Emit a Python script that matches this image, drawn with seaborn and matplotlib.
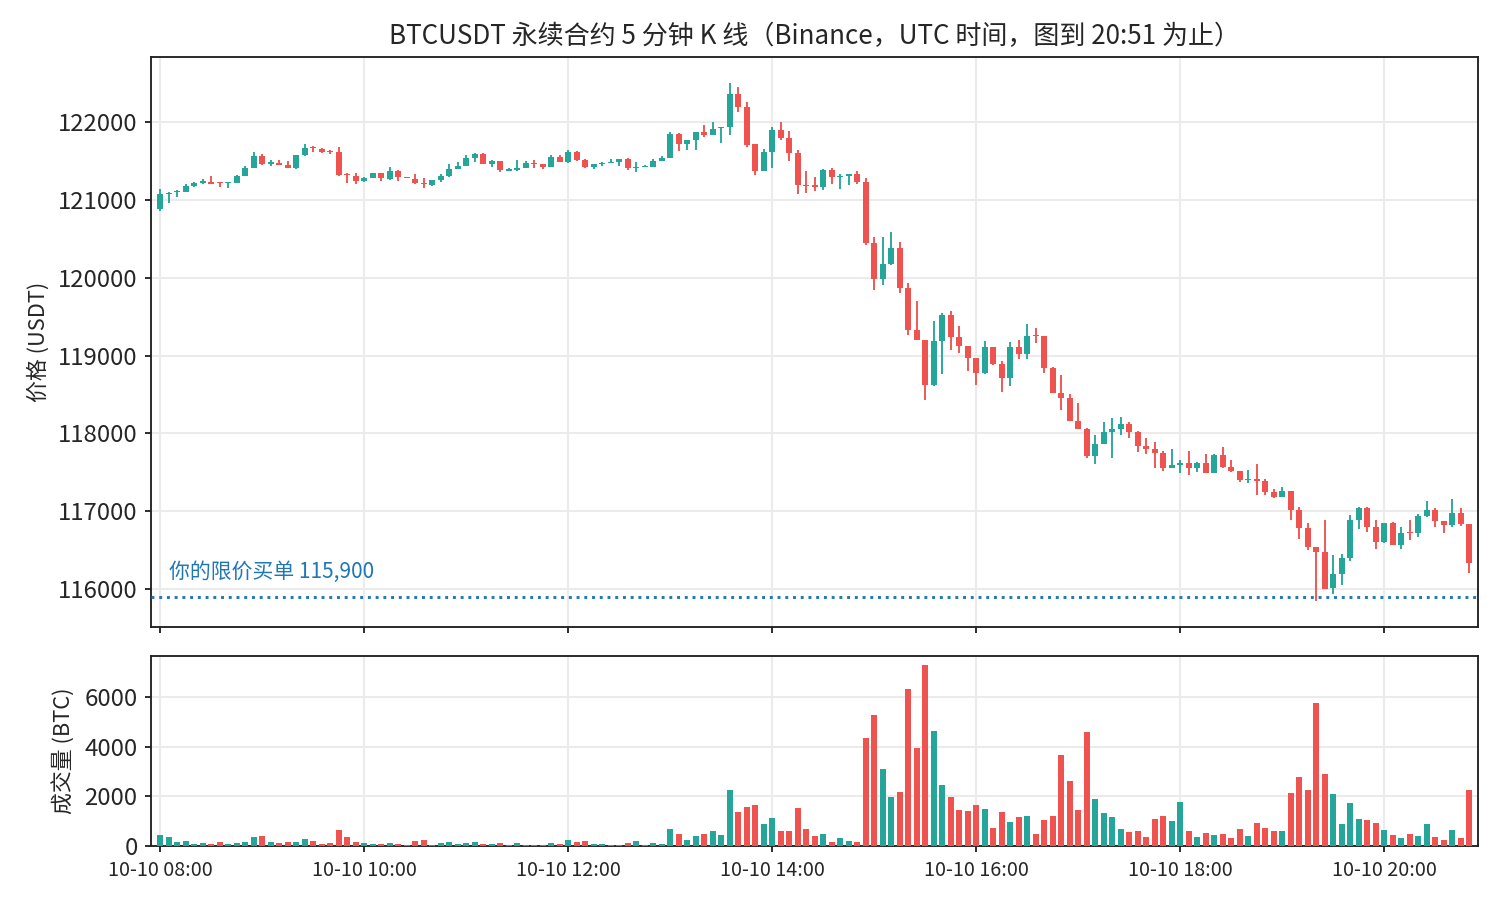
import numpy as np
import pandas as pd
import matplotlib
import seaborn as sns

matplotlib.use("Agg")
import matplotlib.dates as mdates
from matplotlib import pyplot as plt
from matplotlib.ticker import MultipleLocator

start_time = "2025-10-10 08:00"

opens = [
    120889, 121081, 121098, 121107, 121184, 121223, 121231, 121223, 121214, 121223,
    121312, 121415, 121565, 121462, 121480, 121454, 121415, 121578, 121685, 121651,
    121634, 121617, 121338, 121308, 121244, 121283, 121347, 121274, 121377, 121295,
    121270, 121223, 121193, 121257, 121308, 121402, 121441, 121544, 121595, 121462,
    121501, 121377, 121385, 121415, 121471, 121462, 121428, 121552, 121492, 121610,
    121512, 121422, 121465, 121473, 121490, 121529, 121413, 121418, 121426, 121503,
    121542, 121846, 121717, 121769, 121872, 121833, 121923, 121936, 122360, 122193,
    121717, 121370, 121615, 121897, 121795, 121602, 121191, 121191, 121169, 121383,
    121293, 121311, 121332, 121229, 120445, 119987, 120176, 120381, 119867, 119327,
    119199, 118625, 119190, 119520, 119242, 119122, 118968, 118779, 119109, 118890,
    118715, 119109, 119023, 119263, 119250, 118839, 118518, 118454, 118158, 118055,
    117713, 117862, 118017, 118055, 118119, 118017, 117837, 117798, 117747, 117558,
    117597, 117618, 117559, 117618, 117494, 117721, 117567, 117516, 117404, 117413,
    117387, 117246, 117186, 117259, 117015, 116783, 116539, 116475, 116017, 116196,
    116402, 116886, 117040, 116796, 116603, 116848, 116565, 116732, 116719, 116938,
    117015, 116873, 116822, 116976, 116835,
]
highs = [
    121141, 121107, 121128, 121205, 121231, 121270, 121308, 121223, 121231, 121321,
    121437, 121617, 121591, 121518, 121514, 121501, 121578, 121720, 121694, 121668,
    121642, 121681, 121347, 121347, 121300, 121347, 121347, 121424, 121385, 121295,
    121334, 121283, 121257, 121334, 121462, 121488, 121578, 121604, 121604, 121518,
    121501, 121407, 121514, 121501, 121514, 121462, 121578, 121578, 121636, 121628,
    121525, 121460, 121486, 121525, 121525, 121538, 121486, 121447, 121520, 121563,
    121872, 121863, 121769, 121872, 121962, 122000, 121936, 122501, 122450, 122257,
    121717, 121653, 121936, 122000, 121884, 121640, 121370, 121293, 121396, 121409,
    121332, 121332, 121370, 121280, 120522, 120522, 120587, 120458, 119931, 119704,
    119199, 119443, 119546, 119572, 119383, 119122, 118968, 119186, 119109, 118929,
    119173, 119199, 119404, 119353, 119250, 118852, 118749, 118505, 118389, 118068,
    117978, 118145, 118197, 118209, 118145, 118030, 117939, 117888, 117772, 117798,
    117657, 117773, 117631, 117734, 117734, 117824, 117657, 117516, 117529, 117606,
    117413, 117284, 117310, 117259, 117053, 116848, 116539, 116886, 116436, 116449,
    116950, 117053, 117053, 116886, 116848, 116860, 116796, 116886, 116963, 117130,
    117040, 116873, 117156, 117040, 116835,
]
lows = [
    120859, 120966, 121043, 121107, 121171, 121210, 121210, 121171, 121158, 121223,
    121312, 121415, 121450, 121441, 121454, 121415, 121398, 121565, 121621, 121608,
    121595, 121312, 121223, 121210, 121235, 121283, 121248, 121261, 121244, 121278,
    121210, 121158, 121184, 121235, 121300, 121402, 121441, 121492, 121467, 121428,
    121364, 121377, 121377, 121415, 121415, 121402, 121428, 121492, 121480, 121505,
    121413, 121401, 121439, 121473, 121439, 121388, 121358, 121418, 121426, 121503,
    121542, 121627, 121640, 121640, 121807, 121833, 121730, 121833, 122129, 121679,
    121319, 121370, 121409, 121773, 121503, 121079, 121092, 121118, 121131, 121203,
    121143, 121195, 121208, 120424, 119846, 119910, 120163, 119807, 119268, 119203,
    118432, 118612, 118766, 119075, 119036, 118805, 118625, 118766, 118878, 118535,
    118612, 118959, 118959, 119160, 118779, 118522, 118304, 118162, 118059, 117687,
    117610, 117862, 117687, 117978, 117944, 117764, 117738, 117558, 117520, 117558,
    117494, 117469, 117503, 117494, 117494, 117559, 117507, 117379, 117366, 117212,
    117212, 117173, 117186, 116890, 116646, 116505, 115850, 116004, 115940, 116055,
    116364, 116770, 116732, 116513, 116590, 116565, 116513, 116629, 116668, 116925,
    116796, 116719, 116796, 116809, 116205,
]
closes = [
    121081, 121094, 121116, 121176, 121218, 121248, 121210, 121214, 121223, 121308,
    121411, 121565, 121467, 121492, 121454, 121415, 121578, 121668, 121664, 121621,
    121617, 121321, 121321, 121244, 121287, 121347, 121278, 121372, 121295, 121278,
    121218, 121205, 121257, 121308, 121398, 121441, 121540, 121595, 121467, 121501,
    121385, 121398, 121411, 121475, 121458, 121428, 121552, 121492, 121610, 121512,
    121426, 121460, 121478, 121486, 121525, 121409, 121426, 121430, 121499, 121538,
    121846, 121717, 121769, 121872, 121833, 121910, 121936, 122360, 122193, 121705,
    121370, 121615, 121897, 121799, 121606, 121195, 121178, 121169, 121383, 121298,
    121306, 121332, 121233, 120450, 119987, 120176, 120381, 119871, 119332, 119203,
    118625, 119186, 119520, 119242, 119126, 118972, 118779, 119109, 118890, 118715,
    119109, 119023, 119250, 119254, 118843, 118522, 118458, 118162, 118059, 117713,
    117862, 118017, 118055, 118119, 118021, 117841, 117802, 117751, 117558, 117593,
    117618, 117559, 117618, 117494, 117721, 117571, 117520, 117404, 117413, 117391,
    117250, 117186, 117259, 117019, 116788, 116543, 116479, 116004, 116192, 116398,
    116886, 117040, 116796, 116603, 116848, 116565, 116719, 116723, 116938, 117015,
    116873, 116822, 116976, 116835, 116334,
]
volumes = [
    457, 377, 175, 215, 94, 134, 94, 175, 94, 134,
    175, 377, 417, 175, 134, 175, 175, 296, 215, 94,
    134, 659, 377, 175, 134, 94, 94, 134, 94, 54,
    215, 255, 54, 134, 175, 94, 134, 175, 94, 94,
    134, 30, 134, 54, 54, 54, 134, 94, 255, 175,
    215, 94, 94, 54, 54, 134, 215, 54, 134, 94,
    699, 498, 255, 417, 498, 619, 457, 2273, 1385, 1587,
    1668, 901, 1143, 619, 619, 1547, 699, 417, 498, 175,
    336, 215, 175, 4331, 5259, 3120, 1990, 2192, 6308, 3927,
    7276, 4613, 2475, 1990, 1466, 1426, 1668, 1506, 740, 1385,
    982, 1184, 1224, 498, 1063, 1224, 3645, 2636, 1466, 4573,
    1910, 1345, 1184, 699, 578, 619, 377, 1103, 1224, 1022,
    1789, 619, 377, 538, 457, 498, 336, 699, 417, 941,
    740, 619, 619, 2151, 2797, 2273, 5770, 2912, 2110, 901,
    1745, 1103, 1063, 941, 659, 457, 336, 498, 417, 901,
    377, 255, 659, 336, 2273,
]

limit_price = 115900
limit_label = "你的限价买单 115,900"
title = "BTCUSDT 永续合约 5 分钟 K 线（Binance，UTC 时间，图到 20:51 为止）"

UP = "#26a69a"
DOWN = "#ef5350"
LIMIT_COLOR = "#1f77b4"

sns.set_theme(
    style="ticks",
    rc={
        "axes.grid": True,
        "grid.color": "#ebebeb",
        "grid.linewidth": 1.0,
        "axes.linewidth": 0.9,
        "axes.edgecolor": "#222222",
        "xtick.major.size": 3,
        "ytick.major.size": 3,
        "xtick.major.width": 0.9,
        "ytick.major.width": 0.9,
    },
)
plt.rcParams["font.family"] = ["Noto Sans CJK SC", "DejaVu Sans"]

df = pd.DataFrame(
    {
        "time": pd.date_range(start_time, periods=len(opens), freq="5min"),
        "open": opens,
        "high": highs,
        "low": lows,
        "close": closes,
        "volume": volumes,
    }
)
df["color"] = np.where(df["close"] >= df["open"], UP, DOWN)

x = mdates.date2num(df["time"])
step = 5 / 1440
body_low = np.minimum(df["open"], df["close"])
body_h = np.maximum((df["close"] - df["open"]).abs(), 12)

fig = plt.figure(figsize=(10, 6), dpi=150)
ax = fig.add_axes([0.1007, 0.3033, 0.8847, 0.6333])
axv = fig.add_axes([0.1007, 0.06, 0.8847, 0.2111], sharex=ax)

# candles: wick + body
ax.vlines(x, df["low"], df["high"], colors=df["color"], linewidth=0.9, zorder=2)
ax.bar(x, body_h, bottom=body_low, width=step * 0.7, color=df["color"], linewidth=0, zorder=3)
ax.axhline(limit_price, color=LIMIT_COLOR, linestyle=":", linewidth=1.4, zorder=4)
ax.text(x[0] + step, limit_price + 180, limit_label, color=LIMIT_COLOR, fontsize=10, va="bottom")

ax.set_ylim(115511, 122835)
ax.yaxis.set_major_locator(MultipleLocator(1000))
ax.ticklabel_format(axis="y", style="plain", useOffset=False)
ax.tick_params(axis="y", labelsize=11.5)
ax.set_ylabel("价格 (USDT)", fontsize=10.5)
ax.set_title(title, fontsize=12.5)
ax.tick_params(axis="x", labelbottom=False)

# volume
axv.bar(x, df["volume"], width=step * 0.7, color=df["color"], linewidth=0, zorder=3)
axv.set_ylim(0, 7651)
axv.yaxis.set_major_locator(MultipleLocator(2000))
axv.tick_params(axis="y", labelsize=11.5)
axv.set_ylabel("成交量 (BTC)", fontsize=10.5)
axv.xaxis.set_major_locator(mdates.HourLocator(byhour=range(0, 24, 2)))
axv.xaxis.set_major_formatter(mdates.DateFormatter("%m-%d %H:%M"))
axv.tick_params(axis="x", labelsize=9.5)
axv.set_xlim(x[0] - 1.06 * step, x[-1] + 1.06 * step)

fig.savefig("out.png", dpi=150)
plt.close(fig)
